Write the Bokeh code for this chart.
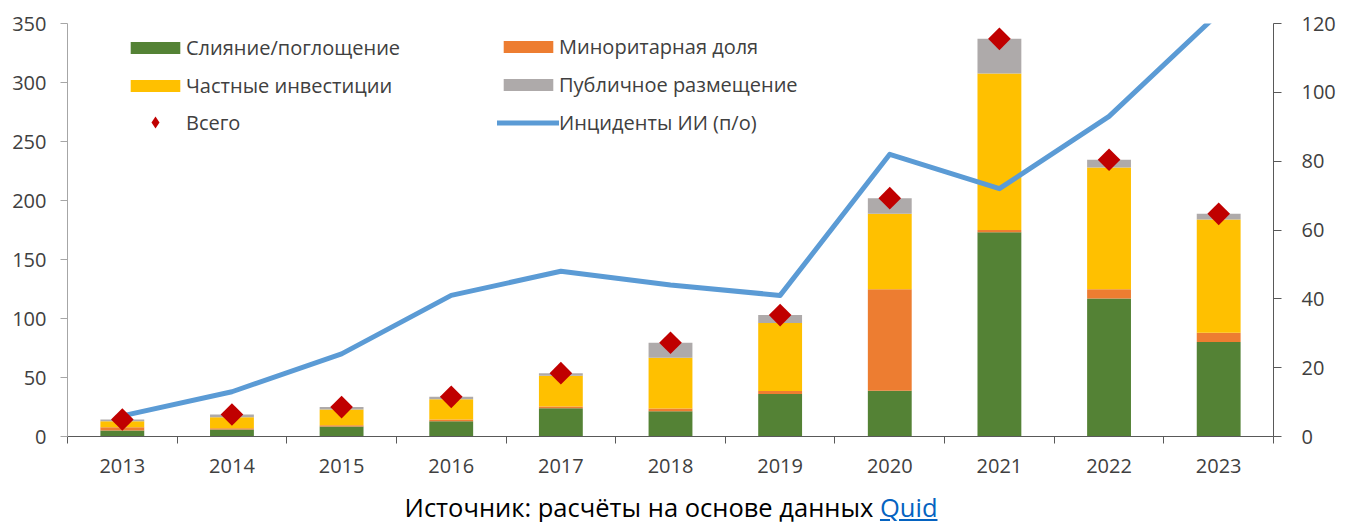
import numpy as np
from bokeh.plotting import figure
from bokeh.models import (Range1d, LinearAxis, FixedTicker, Legend, LegendItem,
                          ColumnDataSource, Div)
from bokeh.layouts import column
from bokeh.embed import file_html
from bokeh.resources import INLINE

# ---- data ----
years = ["2013", "2014", "2015", "2016", "2017", "2018", "2019", "2020", "2021", "2022", "2023"]
mna = [5.1, 5.9, 8.5, 13.0, 24.0, 21.5, 36.0, 38.7, 173.0, 117.0, 80.0]
minority = [2.8, 1.1, 1.1, 1.4, 1.4, 2.2, 2.5, 86.0, 2.0, 7.8, 8.0]
private = [5.1, 9.4, 13.3, 17.2, 26.0, 43.0, 57.6, 64.0, 132.6, 103.2, 96.0]
ipo = [1.4, 2.2, 2.0, 2.0, 2.3, 12.7, 6.8, 13.3, 29.4, 6.5, 4.7]
incidents = [6, 13, 24, 41, 48, 44, 41, 82, 72, 93, 123]
left_ticks = [0, 50, 100, 150, 200, 250, 300, 350]
right_ticks = [0, 20, 40, 60, 80, 100, 120]

series_names = ["Слияние/поглощение", "Миноритарная доля", "Частные инвестиции",
                "Публичное размещение", "Всего", "Инциденты ИИ (п/о)"]
caption = "Источник: расчёты на основе данных "
caption_link = "Quid"

C_GREEN = "#548235"
C_ORANGE = "#ED7D31"
C_YELLOW = "#FFC000"
C_GRAY = "#AEAAAA"
C_RED = "#C00000"
C_BLUE = "#5B9BD5"
FONT = "Open Sans"
TXT = "#404040"

xs = [i + 0.5 for i in range(len(years))]
totals = [a + b + c + d for a, b, c, d in zip(mna, minority, private, ipo)]

src = ColumnDataSource(dict(x=xs, mna=mna, minority=minority, private=private,
                            ipo=ipo, total=totals, inc=incidents))

p = figure(width=1338, height=478, output_backend="svg", toolbar_location=None,
           x_range=Range1d(0, len(years)), y_range=Range1d(0, 350),
           min_border_left=67, min_border_right=61, min_border_top=23, min_border_bottom=42)
p.extra_y_ranges = {"right": Range1d(0, 120)}
p.outline_line_color = None
p.xgrid.visible = False
p.ygrid.visible = False
p.background_fill_color = "white"

bars = p.vbar_stack(["mna", "minority", "private", "ipo"], x="x", width=0.4, source=src,
                    color=[C_GREEN, C_ORANGE, C_YELLOW, C_GRAY], line_color=None)

line = p.line("x", "inc", source=src, y_range_name="right", line_color=C_BLUE,
              line_width=5, line_join="round", line_cap="round")

p.scatter("x", "total", source=src, marker="square", angle=np.pi / 4, size=16,
          fill_color=C_RED, line_color=None)
tot_leg = p.scatter("x", "total", source=src, marker="diamond", size=0,
                    fill_color=C_RED, line_color=None)

# axes
xa = p.xaxis[0]
xa.ticker = FixedTicker(ticks=xs, minor_ticks=list(range(len(years) + 1)))
xa.major_label_overrides = {x: y for x, y in zip(xs, years)}
xa.major_tick_out = 0
xa.major_tick_in = 0
xa.minor_tick_out = 7
xa.minor_tick_in = 0
xa.minor_tick_line_color = "#595959"
xa.axis_line_color = "#595959"
xa.major_label_standoff = 15
xa.major_label_text_font = FONT
xa.major_label_text_font_size = "20px"
xa.major_label_text_color = TXT

ya = p.yaxis[0]
ya.ticker = FixedTicker(ticks=left_ticks)
ya.major_tick_out = 7
ya.major_tick_in = 0
ya.minor_tick_out = 0
ya.minor_tick_in = 0
ya.axis_line_color = "#A6A6A6"
ya.major_tick_line_color = "#A6A6A6"
ya.major_label_standoff = 14
ya.major_label_text_font = FONT
ya.major_label_text_font_size = "20px"
ya.major_label_text_color = TXT

ra = LinearAxis(y_range_name="right", ticker=FixedTicker(ticks=right_ticks))
ra.major_tick_out = 8
ra.major_tick_in = 0
ra.minor_tick_out = 0
ra.minor_tick_in = 0
ra.axis_line_color = "#595959"
ra.major_tick_line_color = "#595959"
ra.major_label_standoff = 20
ra.major_label_text_font = FONT
ra.major_label_text_font_size = "20px"
ra.major_label_text_color = TXT
p.add_layout(ra, "right")


def mk_legend(items, loc, gh):
    lg = Legend(items=items, location=loc, orientation="vertical",
                glyph_width=62, glyph_height=gh, label_height=28, spacing=10,
                padding=0, margin=0, border_line_color=None, background_fill_alpha=0,
                label_standoff=0, label_text_font=FONT, label_text_font_size="20px",
                label_text_color=TXT)
    p.add_layout(lg, "center")
    return lg


mk_legend([LegendItem(label=series_names[0], renderers=[bars[0]]),
           LegendItem(label=series_names[2], renderers=[bars[2]])], (57, 337), 15)
mk_legend([LegendItem(label=series_names[1], renderers=[bars[1]]),
           LegendItem(label=series_names[3], renderers=[bars[3]]),
           LegendItem(label=series_names[5], renderers=[line])], (430, 300), 15)
mk_legend([LegendItem(label=series_names[4], renderers=[tot_leg])], (57, 299), 30)

div = Div(text=('<div style="display:block;width:1300px;text-align:center;padding-left:32px;'
                'font-family:\'Open Sans\';font-size:25.5px;line-height:34px;padding-top:7px;'
                'color:#000;white-space:nowrap">'
                + caption + '<a style="color:#0563C1;text-decoration:underline">'
                + caption_link + '</a></div>'), width=1338, height=43)

layout = column(p, div)
open("out.html", "w").write(file_html(layout, INLINE))
